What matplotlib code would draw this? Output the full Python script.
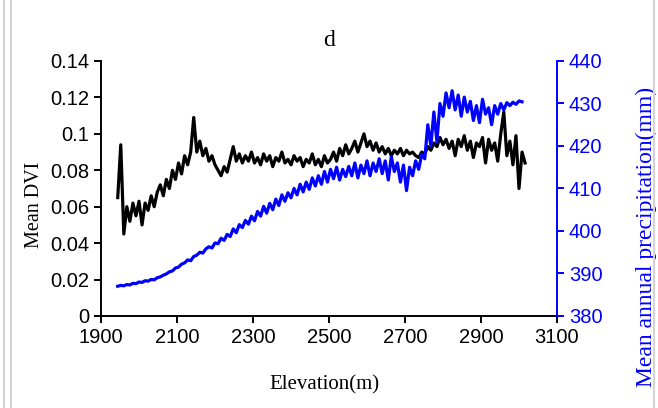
import matplotlib
matplotlib.use("Agg")
import matplotlib.pyplot as plt
import numpy as np
from matplotlib.lines import Line2D

# mean DVI along elevation, 8 m bins starting at 1944 m
dvi = [0.065, 0.094, 0.045, 0.060, 0.052, 0.062, 0.055, 0.063, 0.050, 0.062,
       0.058, 0.066, 0.060, 0.068, 0.072, 0.066, 0.075, 0.070, 0.080, 0.075,
       0.084, 0.078, 0.088, 0.083, 0.090, 0.109, 0.090, 0.096, 0.088, 0.092,
       0.085, 0.088, 0.083, 0.080, 0.077, 0.082, 0.079, 0.086, 0.093, 0.085,
       0.089, 0.084, 0.088, 0.085, 0.090, 0.084, 0.087, 0.083, 0.089, 0.085,
       0.088, 0.082, 0.087, 0.085, 0.090, 0.084, 0.086, 0.083, 0.088, 0.085,
       0.087, 0.082, 0.086, 0.084, 0.089, 0.083, 0.086, 0.082, 0.088, 0.084,
       0.086, 0.090, 0.085, 0.092, 0.088, 0.094, 0.089, 0.092, 0.096, 0.090,
       0.095, 0.100, 0.093, 0.096, 0.091, 0.095, 0.090, 0.093, 0.089, 0.092,
       0.088, 0.091, 0.089, 0.092, 0.088, 0.091, 0.089, 0.090, 0.088, 0.087,
       0.090, 0.089, 0.093, 0.091, 0.095, 0.093, 0.098, 0.094, 0.097, 0.092,
       0.096, 0.088, 0.097, 0.093, 0.099, 0.091, 0.096, 0.087, 0.095, 0.093,
       0.098, 0.084, 0.097, 0.091, 0.095, 0.085, 0.100, 0.112, 0.088, 0.096,
       0.083, 0.099, 0.070, 0.090, 0.084]

# mean annual precipitation (mm), same bins
precip = [387.0, 387.2, 387.1, 387.4, 387.3, 387.7, 387.6, 388.0, 387.9, 388.3,
          388.2, 388.6, 388.5, 389.0, 389.2, 389.6, 389.9, 390.4, 390.6, 391.3,
          391.5, 392.2, 392.5, 393.2, 393.0, 394.0, 394.3, 395.0, 394.8, 395.8,
          396.3, 396.0, 397.2, 397.0, 398.3, 397.8, 399.2, 398.7, 400.5, 399.6,
          401.5, 400.8, 402.5, 401.6, 403.5, 402.4, 404.6, 403.5, 405.8, 404.2,
          406.5, 405.0, 407.5, 406.0, 408.5, 407.0, 409.0, 407.8, 410.0, 408.5,
          411.0, 409.2, 411.5, 409.8, 412.5, 410.6, 413.0, 411.0, 414.0, 411.5,
          414.5, 412.3, 415.0, 412.0, 414.5, 412.8, 415.2, 413.0, 416.0, 412.5,
          415.5, 413.5, 416.5, 413.0, 416.0, 414.0, 417.0, 413.5, 416.5, 412.0,
          417.5, 414.0, 416.0, 411.5, 415.5, 409.5, 415.0, 413.0, 416.5, 414.5,
          418.0, 417.0, 425.0, 420.0, 428.0, 421.0, 430.0, 427.0, 432.5, 429.0,
          433.0, 428.5, 432.0, 427.0, 431.5, 428.0, 430.5, 426.0, 429.5, 425.5,
          431.0, 427.5, 429.0, 425.0, 429.5, 427.5, 430.0, 428.5, 430.2, 429.5,
          430.3, 429.8, 430.6, 430.4]

elev_dvi = 1944 + 8 * np.arange(len(dvi))
elev_pre = 1944 + 8 * np.arange(len(precip))

serif = "Liberation Serif"
sans = "Liberation Sans"
blue = "#0000ff"

fig = plt.figure(figsize=(6.58, 4.08), dpi=100)
ax = fig.add_axes([0.1535, 0.2255, 0.693, 0.625])
ax2 = ax.twinx()

ax.plot(elev_dvi, dvi, color="black", lw=2.3, zorder=2)
ax2.plot(elev_pre, precip, color=blue, lw=2.3, zorder=3)

ax.set_xlim(1900, 3100)
ax.set_ylim(0, 0.14)
ax.set_xticks(np.arange(1900, 3101, 200))
ax.set_yticks(np.arange(0, 0.141, 0.02))
ax.set_yticklabels(["0", "0.02", "0.04", "0.06", "0.08", "0.1", "0.12", "0.14"])
ax2.set_ylim(380, 440)
ax2.set_yticks(np.arange(380, 441, 10))

for a in (ax, ax2):
    a.spines["top"].set_visible(False)
ax.spines["right"].set_visible(False)
ax2.spines["left"].set_visible(False)
ax2.spines["bottom"].set_visible(False)
ax.spines["left"].set_linewidth(1.4)
ax.spines["bottom"].set_linewidth(1.4)
ax2.spines["right"].set_color(blue)
ax2.spines["right"].set_linewidth(1.4)

ax.tick_params(axis="both", direction="out", length=5, width=1.4, labelsize=14.5)
ax2.tick_params(axis="y", direction="out", length=5, width=1.4, labelsize=14.5,
                colors=blue)
for lab in ax.get_xticklabels() + ax.get_yticklabels() + ax2.get_yticklabels():
    lab.set_fontfamily(sans)

ax.set_xlabel("Elevation(m)", fontfamily=serif, fontsize=15)
ax.xaxis.set_label_coords(0.49, -0.232)
ax.set_ylabel("Mean DVI", fontfamily=serif, fontsize=14.5)
ax.yaxis.set_label_coords(-0.124, 0.435)
ax2.set_ylabel("Mean annual precipitation(mm)", fontfamily=serif, fontsize=17,
               color=blue)
ax2.yaxis.set_label_coords(1.173, 0.31)
ax.set_title("d", fontfamily=serif, fontsize=17, pad=11)

# light frame lines at the figure sides
for xf in (0.006, 0.016, 0.994):
    fig.add_artist(Line2D([xf, xf], [0, 1], transform=fig.transFigure,
                          color="#d4d4d4", lw=1.5))

fig.savefig("out.png", dpi=100)
